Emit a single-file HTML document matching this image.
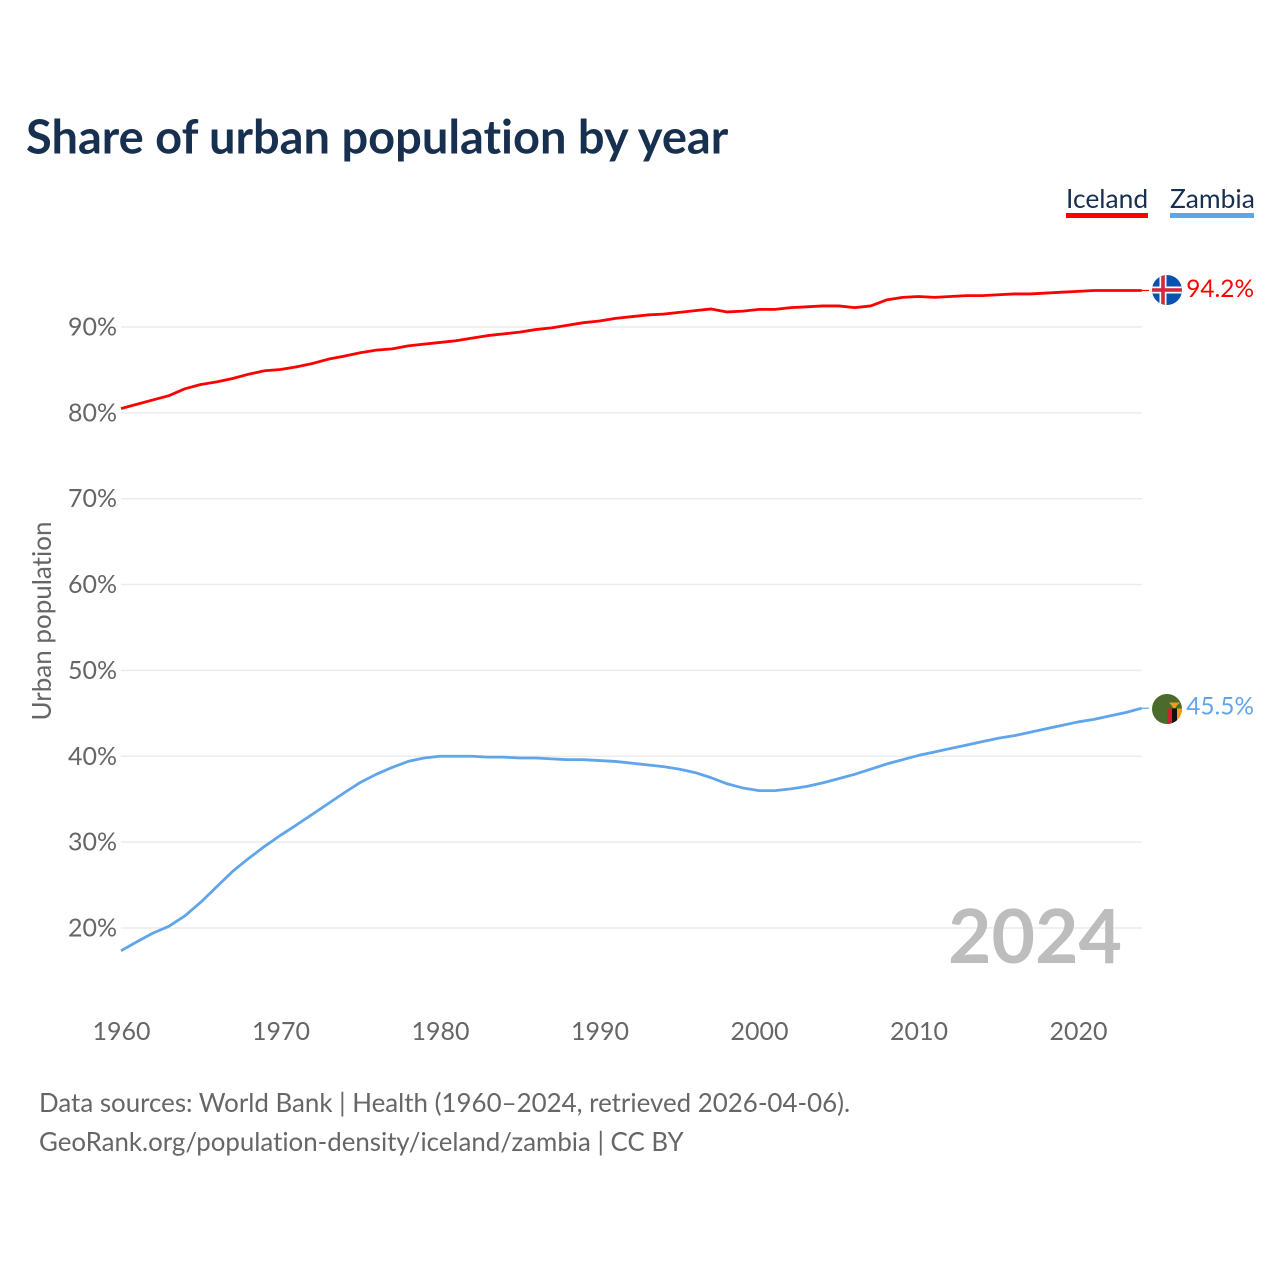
<!DOCTYPE html>
<html lang="en">
<head>
<meta charset="utf-8">
<title>Share of urban population by year</title>
<style>
html,body{margin:0;padding:0;background:#fff;width:1280px;height:1280px;overflow:hidden}
svg{display:block}
text{font-family:"Lato","Carlito","Liberation Sans",sans-serif;font-variant-ligatures:none}
</style>
</head>
<body>
<svg id="chart" xmlns="http://www.w3.org/2000/svg" width="1280" height="1280" viewBox="0 0 1280 1280">
  <defs>
    <clipPath id="flag-clip-iceland"><circle cx="1167" cy="290" r="15"/></clipPath>
    <clipPath id="flag-clip-zambia"><circle cx="1167" cy="709" r="15"/></clipPath>
  </defs>
  <text x="26" y="153.5" font-size="47" font-weight="700" fill="#18304f">Share of urban population by year</text>
  <g id="grid"></g>
  <g id="yticks"></g>
  <g id="xticks"></g>
  <text transform="translate(51,621) rotate(-90)" text-anchor="middle" font-size="26" fill="#666">Urban population</text>
  <text x="1122" y="963" text-anchor="end" font-size="75" font-weight="700" fill="#bdbdbd">2024</text>
  <g id="series"></g>

  <g>
    <text x="1066" y="208" font-size="26.4" fill="#18304f">Iceland</text>
    <rect x="1066" y="213" width="82" height="5" fill="#ff0000"/>
  </g>
  <g>
    <text x="1170" y="208" font-size="26.4" fill="#18304f">Zambia</text>
    <rect x="1170" y="213" width="84" height="5" fill="#60a5ea"/>
  </g>

  <g clip-path="url(#flag-clip-iceland)">
    <rect x="1152" y="275" width="30" height="30" fill="#0b52b0"/>
    <rect x="1152" y="286.5" width="30" height="7" fill="#fff"/>
    <rect x="1159.5" y="275" width="7" height="30" fill="#fff"/>
    <rect x="1152" y="288.2" width="30" height="3.6" fill="#d7263d"/>
    <rect x="1161.2" y="275" width="3.6" height="30" fill="#d7263d"/>
  </g>
  <g clip-path="url(#flag-clip-zambia)">
    <rect x="1152" y="694" width="30" height="30" fill="#4a6b2c"/>
    <rect x="1167" y="708.5" width="5" height="16" fill="#d3202f"/>
    <rect x="1172" y="708.5" width="5" height="16" fill="#111"/>
    <rect x="1177" y="708.5" width="5" height="16" fill="#f29a1c"/>
    <path d="M1169 702.5h11l-3.5 3.5-1 2h-2.5l-1-2z" fill="#f29a1c"/>
  </g>
  <g id="endlabels"></g>

  <text x="39" y="1112" font-size="25.9" fill="#666">Data sources: World Bank | Health (1960–2024, retrieved 2026-04-06).</text>
  <text x="39" y="1151" font-size="25.85" fill="#666">GeoRank.org/population-density/iceland/zambia | CC BY</text>
</svg>
<script>
const years = [1960,1961,1962,1963,1964,1965,1966,1967,1968,1969,1970,1971,1972,1973,1974,1975,1976,1977,1978,1979,1980,1981,1982,1983,1984,1985,1986,1987,1988,1989,1990,1991,1992,1993,1994,1995,1996,1997,1998,1999,2000,2001,2002,2003,2004,2005,2006,2007,2008,2009,2010,2011,2012,2013,2014,2015,2016,2017,2018,2019,2020,2021,2022,2023,2024];
const iceland = [80.5,81.0,81.5,82.0,82.8,83.3,83.6,84.0,84.5,84.9,85.05,85.35,85.75,86.25,86.6,87.0,87.3,87.45,87.8,88.0,88.2,88.4,88.7,89.0,89.2,89.4,89.7,89.9,90.2,90.5,90.7,91.0,91.2,91.4,91.5,91.7,91.9,92.1,91.75,91.85,92.05,92.05,92.25,92.35,92.45,92.45,92.25,92.45,93.15,93.45,93.55,93.45,93.55,93.65,93.65,93.75,93.85,93.85,93.95,94.05,94.15,94.25,94.25,94.25,94.25];
const zambia = [17.35,18.4,19.4,20.2,21.4,23.0,24.8,26.6,28.1,29.5,30.8,32.0,33.25,34.5,35.75,36.95,37.9,38.7,39.4,39.8,40.0,40.0,40.0,39.9,39.9,39.8,39.8,39.7,39.6,39.6,39.5,39.4,39.2,39.0,38.8,38.5,38.1,37.5,36.8,36.3,36.0,36.0,36.2,36.5,36.9,37.4,37.9,38.5,39.1,39.6,40.1,40.5,40.9,41.3,41.7,42.1,42.4,42.8,43.2,43.6,44.0,44.3,44.7,45.1,45.6];
const yTickValues = [20,30,40,50,60,70,80,90];
const xTickValues = [1960,1970,1980,1990,2000,2010,2020];
const icelandLabel = "94.2%";
const zambiaLabel = "45.5%";

const NS = 'http://www.w3.org/2000/svg';
const xScale = function (year) { return 121 + (year - 1960) * 15.95; };
const yScale = function (value) { return 928 - (value - 20) * 8.586; };
const make = function (tag, parent) {
  const el = document.createElementNS(NS, tag);
  parent.appendChild(el);
  return el;
};

const grid = document.getElementById('grid');
const yticks = document.getElementById('yticks');
yTickValues.forEach(function (v) {
  const line = make('line', grid);
  
  
  line.setAttribute('x1', 121);
  line.setAttribute('x2', 1142);
  line.setAttribute('y1', yScale(v));
  line.setAttribute('y2', yScale(v));
  line.setAttribute('stroke', '#ececec');
  line.setAttribute('stroke-width', 1.5);
  const t = make('text', yticks);
  
  
  t.setAttribute('x', 117);
  t.setAttribute('y', yScale(v) + 8.5);
  t.setAttribute('text-anchor', 'end');
  t.setAttribute('font-size', 25);
  t.setAttribute('fill', '#666');
  t.textContent = v + '%';
});

const xticks = document.getElementById('xticks');
xTickValues.forEach(function (y) {
  const t = make('text', xticks);
  
  
  t.setAttribute('x', xScale(y) + 0.5);
  t.setAttribute('y', 1040);
  t.setAttribute('text-anchor', 'middle');
  t.setAttribute('font-size', 25);
  t.setAttribute('fill', '#666');
  t.textContent = y;
});

const seriesGroup = document.getElementById('series');
const drawSeries = function (values, color, name) {
  const pts = values.map(function (v, i) { return xScale(years[i]).toFixed(2) + ',' + yScale(v).toFixed(2); });
  const line = make('polyline', seriesGroup);
  
  
  line.setAttribute('points', pts.join(' '));
  line.setAttribute('fill', 'none');
  line.setAttribute('stroke', color);
  line.setAttribute('stroke-width', 2.8);
  line.setAttribute('stroke-linejoin', 'round');
  const last = values[values.length - 1];
  const lead = make('line', seriesGroup);
  
  
  lead.setAttribute('x1', xScale(years[years.length - 1]));
  lead.setAttribute('x2', 1149);
  lead.setAttribute('y1', yScale(last));
  lead.setAttribute('y2', yScale(last));
  lead.setAttribute('stroke', color);
  lead.setAttribute('stroke-width', 1.2);
};
drawSeries(iceland, '#ff0000', 'iceland-line');
drawSeries(zambia, '#60a5ea', 'zambia-line');

const endLabels = document.getElementById('endlabels');
const drawEnd = function (values, label, color, name) {
  const t = make('text', endLabels);
  
  
  t.setAttribute('x', 1254);
  t.setAttribute('y', yScale(values[values.length - 1]) + 6.5);
  t.setAttribute('text-anchor', 'end');
  t.setAttribute('font-size', 24.4);
  t.setAttribute('fill', color);
  t.textContent = label;
};
drawEnd(iceland, icelandLabel, '#ff0000', 'iceland-end-label');
drawEnd(zambia, zambiaLabel, '#60a5ea', 'zambia-end-label');
</script>
</body>
</html>
